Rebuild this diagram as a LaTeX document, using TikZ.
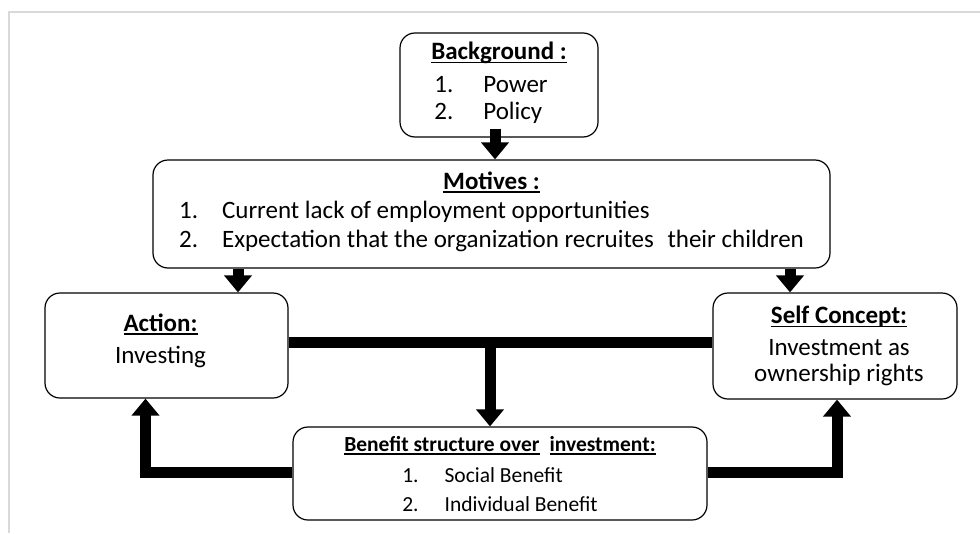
\documentclass[tikz,border=0pt]{standalone}
\usepackage{fontspec}
\setmainfont{Carlito}
\usetikzlibrary{arrows.meta}

\tikzset{
  box/.style={draw, rounded corners=15pt, line width=1.2pt, inner sep=0pt, align=center,
    font=\fontsize{25}{29}\selectfont},
  smallbox/.style={box, font=\fontsize{21.5}{29}\selectfont},
  flow/.style={line width=11pt, -{Triangle[width=27pt,length=17pt]}},
  bar/.style={line width=11pt},
}
% bold heading with a rule under it
\newcommand{\hd}[1]{\setbox0\hbox{\bfseries #1}\rlap{\rule[-3.5pt]{\wd0}{1.3pt}}\box0}

\begin{document}
\begin{tikzpicture}[x=1pt,y=-1pt]
\useasboundingbox (0,0) rectangle (980,533);
\draw [black!15, line width=2.5pt] (9,533) -- (9,12) -- (980,12);
% boxes
\node [box, minimum width=198pt, minimum height=104pt] (bg) at (499,85)
  {\hd{Background :}\\[7pt]
   \hspace*{-16pt}\begin{tabular}{@{}l@{\hspace{30pt}}l@{}}1.&Power\\[-2pt]2.&Policy\end{tabular}};
\node [box, minimum width=677pt, minimum height=108pt] (mot) at (491.5,214)
  {\hd{Motives :}\\[5pt]
   \begin{tabular}{@{}l@{\hspace{24pt}}l@{}}1.&Current lack of employment opportunities\\[0pt]
   2.&Expectation that the organization recruites\hspace{8pt} their children\end{tabular}};
\node [box, minimum width=243pt, minimum height=105pt] (act) at (166.5,345.5)
  {\hspace*{-12pt}\hd{Action:}\\[3pt]\hspace*{-12pt}Investing\rule[-14pt]{0pt}{1pt}};
\node [box, minimum width=244pt, minimum height=106pt] (self) at (835,346)
  {\hspace*{8pt}\hd{Self Concept:}\\[3pt]\hspace*{8pt}Investment as\\[-3pt]\hspace*{8pt}ownership rights};
\node [smallbox, minimum width=414pt, minimum height=93pt] (ben) at (500,473.5)
  {\hd{Benefit structure over}\hspace{10pt}\hd{investment:}\rule{0pt}{24pt}\\[6pt]
   \begin{tabular}{@{}l@{\hspace{26pt}}l@{}}1.&Social Benefit\\[0pt]2.&Individual Benefit\end{tabular}};
% arrow ends
\coordinate (bgout) at ([xshift=-4pt,yshift=9pt]bg.south);
\coordinate (actin) at ([xshift=71.5pt]act.north);
\coordinate (selfin) at ([xshift=-45pt]self.north);
\coordinate (benin) at ([xshift=-10pt]ben.north);
\coordinate (actout) at ([xshift=-21pt]act.south);
\coordinate (selfout) at ([xshift=2pt]self.south);
% connectors
\draw [flow] (bgout) -- (bgout |- mot.north);
\draw [flow] (actin |- mot.south) -- (actin);
\draw [flow] (selfin |- mot.south) -- (selfin);
\draw [bar] ([yshift=3pt]act.east) -- ([yshift=3pt]act.east -| self.west);
\draw [flow] ([yshift=3pt]act.east -| benin) -- (benin);
\draw [flow] ([yshift=1.5pt]ben.west) -| (actout);
\draw [flow] ([yshift=1.5pt]ben.east) -| (selfout);
\end{tikzpicture}
\end{document}
